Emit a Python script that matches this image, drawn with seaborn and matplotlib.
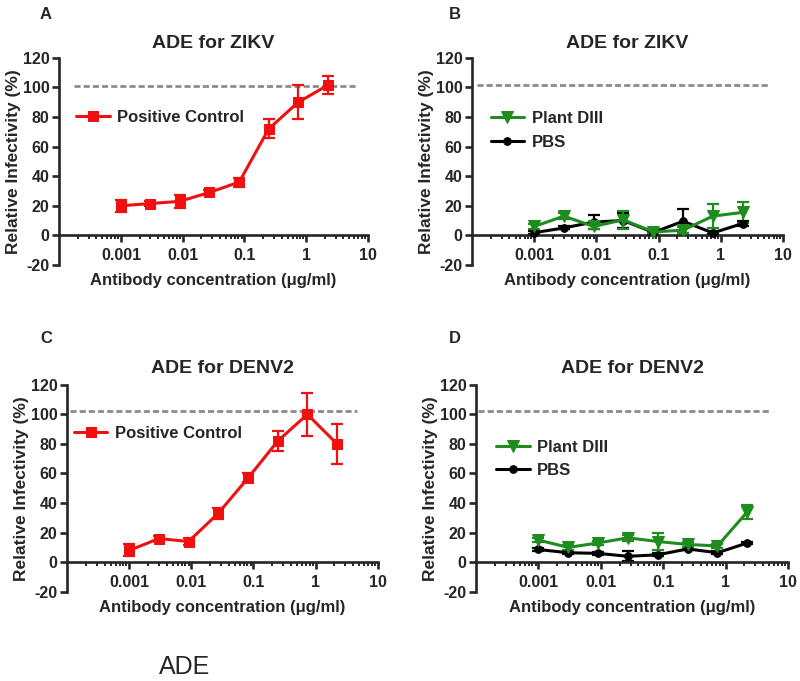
import numpy as np
import pandas as pd
import matplotlib
matplotlib.use('Agg')
import matplotlib.pyplot as plt
import matplotlib.ticker as mticker
import seaborn as sns

# ---- data ----
conc = [0.001, 0.003, 0.009, 0.027, 0.082, 0.247, 0.74, 2.22]

zikv_pos = [20, 21.5, 23, 29, 36, 72, 90, 101.5]
zikv_pos_err = [4, 2, 4.5, 1.5, 3, 6.5, 11.5, 6]

zikv_plant = [6, 13, 6, 10.5, 2.3, 3.5, 13, 15.5]
zikv_plant_err = [1.5, 2, 2, 6, 1, 2, 8, 7]
zikv_pbs = [1.8, 5, 9, 10, 2, 9.5, 1.6, 8]
zikv_pbs_err = [1, 1, 5, 5, 1, 8, 1, 1.5]

denv_pos = [8, 16, 14, 33, 57, 82, 100, 80]
denv_pos_err = [4, 1.5, 2.5, 4, 3, 7, 14.5, 13.5]

denv_plant = [15, 10, 13, 16.5, 14, 12, 11, 34]
denv_plant_err = [1.5, 1.5, 1.5, 2, 6, 1.5, 1.5, 5]
denv_pbs = [8.6, 6.4, 6, 4, 5, 9, 6.4, 13]
denv_pbs_err = [1, 1, 1, 3.5, 1, 1, 1, 1]

ref_level = [101, 102, 102, 102.5]
titles = ['ADE for ZIKV', 'ADE for ZIKV', 'ADE for DENV2', 'ADE for DENV2']
letters = ['A', 'B', 'C', 'D']

RED = '#f01010'
GREEN = '#1e8c1e'
BLACK = '#000000'

sns.set_style('ticks')
plt.rcParams['font.family'] = ['Liberation Sans', 'DejaVu Sans']
plt.rcParams['axes.unicode_minus'] = False

fig = plt.figure(figsize=(8, 6.81), dpi=100)

# axes boxes in figure fraction [left, bottom, width, height]
boxes = [
    [0.074, 0.611, 0.386, 0.304],
    [0.590, 0.611, 0.389, 0.304],
    [0.084, 0.131, 0.388, 0.304],
    [0.595, 0.131, 0.390, 0.304],
]
dash_span = [(0.049, 0.968), (0.016, 0.958), (0.01, 0.935), (0.006, 0.94)]
title_pad = [7, 7, 8.5, 8.5]

panels = [
    [('Positive Control', zikv_pos, zikv_pos_err, RED, 's', 7)],
    [('PBS', zikv_pbs, zikv_pbs_err, BLACK, 'o', 5.5),
     ('Plant DIII', zikv_plant, zikv_plant_err, GREEN, 'v', 8)],
    [('Positive Control', denv_pos, denv_pos_err, RED, 's', 7)],
    [('PBS', denv_pbs, denv_pbs_err, BLACK, 'o', 5.5),
     ('Plant DIII', denv_plant, denv_plant_err, GREEN, 'v', 8)],
]
legend_pos = [(0.055, 0.714), (0.06, 0.65), (0.022, 0.764), (0.065, 0.643)]

for i, ax_box in enumerate(boxes):
    ax = fig.add_axes(ax_box)
    for name, vals, err, col, mk, ms in panels[i]:
        df = pd.DataFrame({'conc': conc, 'val': vals})
        ax.errorbar(conc, vals, yerr=err, fmt='none', ecolor=col,
                    elinewidth=1.6, capsize=4, capthick=1.6, zorder=2)
        sns.lineplot(data=df, x='conc', y='val', ax=ax, color=col, marker=mk,
                     markersize=ms, markeredgecolor=col, linewidth=2.2,
                     label=name, errorbar=None, zorder=3)
    ax.axhline(ref_level[i], xmin=dash_span[i][0], xmax=dash_span[i][1],
               color='#8c8c8c', lw=2, dashes=(2.2, 1.1), zorder=1)

    ax.set_xscale('log')
    ax.set_xlim(1e-4, 10)
    ax.set_ylim(-20, 120)
    ax.set_yticks(np.arange(-20, 121, 20))
    ax.xaxis.set_major_locator(mticker.FixedLocator([0.001, 0.01, 0.1, 1, 10]))
    ax.xaxis.set_major_formatter(mticker.FixedFormatter(['0.001', '0.01', '0.1', '1', '10']))
    ax.xaxis.set_minor_locator(mticker.LogLocator(base=10, subs=np.arange(2, 10)))
    ax.xaxis.set_minor_formatter(mticker.NullFormatter())

    ax.spines['top'].set_visible(False)
    ax.spines['right'].set_visible(False)
    ax.spines['bottom'].set_position(('data', 0))
    for s in ['left', 'bottom']:
        ax.spines[s].set_linewidth(1.9)
    ax.tick_params(axis='both', which='major', direction='out', length=5,
                   width=1.9, labelsize=11.5, pad=2)
    ax.tick_params(axis='x', which='major', pad=4)
    ax.tick_params(axis='x', which='minor', direction='out', length=3, width=1.4)
    for lab in ax.get_xticklabels() + ax.get_yticklabels():
        lab.set_fontweight('bold')

    ax.set_title(titles[i], fontsize=14, fontweight='bold', pad=title_pad[i])
    ax.set_ylabel('Relative Infectivity (%)', fontsize=12.5, fontweight='bold', labelpad=1)
    ax.set_xlabel('Antibody concentration (\u03bcg/ml)', fontsize=12, fontweight='bold')
    ax.xaxis.set_label_coords(0.5, -0.04)

    handles, labels = ax.get_legend_handles_labels()
    order = sorted(range(len(labels)), key=lambda k: labels[k] == 'PBS')
    ax.legend([handles[k] for k in order], [labels[k] for k in order],
              loc='center left', bbox_to_anchor=legend_pos[i], frameon=False,
              borderaxespad=0, borderpad=0, handlelength=2.0, handletextpad=0.45,
              labelspacing=0.5, prop={'weight': 'bold', 'size': 12})

# panel letters
letter_xy = [(0.0575, 0.979), (0.569, 0.979), (0.0575, 0.503), (0.569, 0.503)]
for (lx, ly), letter in zip(letter_xy, letters):
    fig.text(lx, ly, letter, ha='center', va='center', fontsize=12, fontweight='bold')

fig.text(185 / 800, 1 - 667 / 681, 'ADE', ha='center', va='center', fontsize=18)

fig.savefig('out.png', dpi=100)
